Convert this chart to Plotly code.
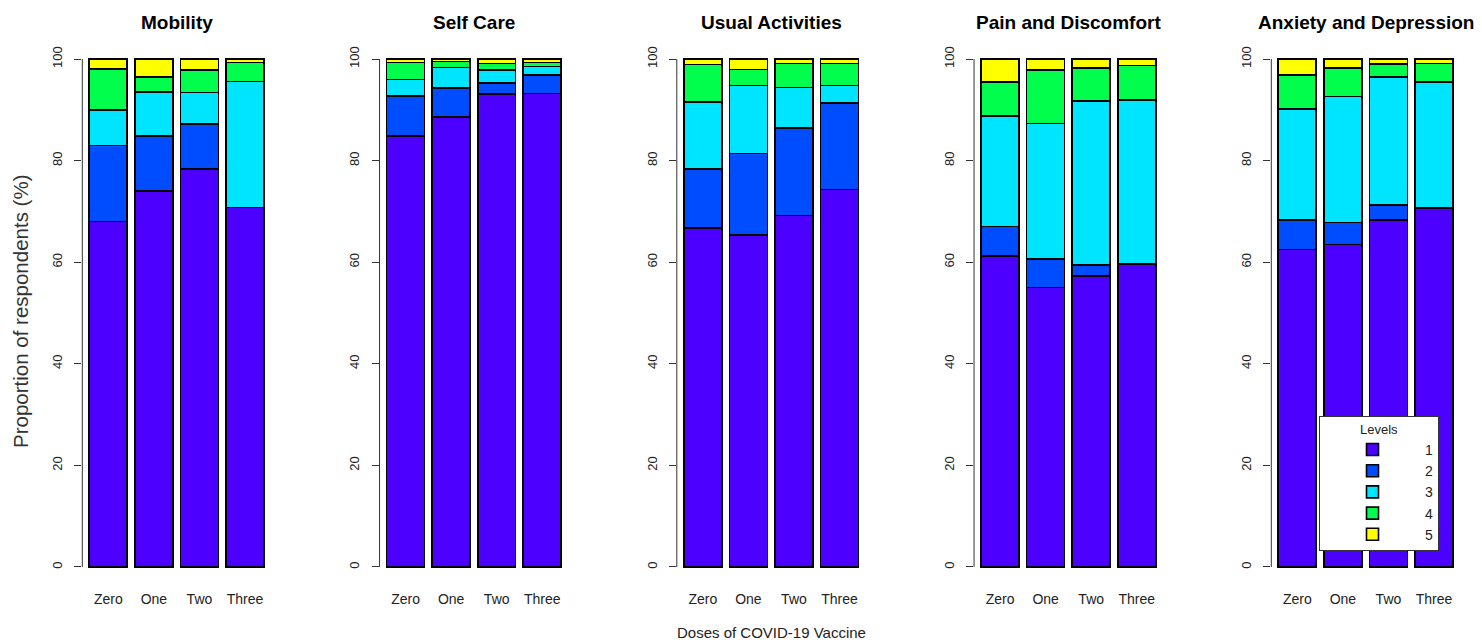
import plotly.graph_objects as go

doses = ["Zero", "One", "Two", "Three"]
dimensions = ["Mobility", "Self Care", "Usual Activities", "Pain and Discomfort", "Anxiety and Depression"]
levels = ["1", "2", "3", "4", "5"]
level_colors = ["#4C00FF", "#004CFF", "#00E5FF", "#00FF4D", "#FFFF00"]

# percentages per level (rows: level 1..5, columns: Zero, One, Two, Three)
mobility = [
    [68.0, 74.0, 78.3, 70.8],
    [15.0, 10.8, 8.9, 0.0],
    [7.0, 8.7, 6.2, 24.8],
    [8.0, 3.0, 4.4, 3.7],
    [2.0, 3.5, 2.2, 0.7],
]
self_care = [
    [84.8, 88.6, 93.1, 93.2],
    [7.9, 5.7, 2.2, 3.7],
    [3.3, 4.0, 2.5, 1.6],
    [3.3, 1.2, 1.3, 0.8],
    [0.7, 0.5, 0.9, 0.7],
]
usual_activities = [
    [66.7, 65.3, 69.2, 74.3],
    [11.6, 16.1, 17.2, 17.0],
    [13.2, 13.4, 8.0, 3.5],
    [7.4, 3.1, 4.7, 4.3],
    [1.1, 2.1, 0.9, 0.9],
]
pain_discomfort = [
    [61.2, 55.0, 57.3, 59.6],
    [5.8, 5.6, 2.2, 0.0],
    [21.8, 26.7, 32.2, 32.3],
    [6.7, 10.5, 6.5, 6.85],
    [4.5, 2.2, 1.8, 1.25],
]
anxiety_depression = [
    [62.5, 63.5, 68.3, 70.7],
    [5.8, 4.3, 3.0, 0.0],
    [21.9, 24.8, 25.2, 24.8],
    [6.6, 5.6, 2.5, 3.6],
    [3.2, 1.8, 1.0, 0.9],
]
panel_data = [mobility, self_care, usual_activities, pain_discomfort, anxiety_depression]

y_ticks = [0, 20, 40, 60, 80, 100]

# page has an 8px body margin; figure is sized to fill the rest of the window
OFF = 8
W, H = 1482 - OFF, 640 - OFF


def fx(px):
    return (px - OFF) / W


def fy(py):
    return 1 - (py - OFF) / H


bar_pos = [0.7 + 1.2 * i for i in range(len(doses))]

fig = go.Figure()
font_fam = "Liberation Sans, Arial, Helvetica, sans-serif"

plot_left0 = 82.3
panel_step = 297.25
panel_w = 188.7
y_bottom = fy(587.3)
y_top = fy(38.7)

for p, (name, data) in enumerate(zip(dimensions, panel_data)):
    ax = "" if p == 0 else str(p + 1)
    for li, lvl in enumerate(levels):
        fig.add_trace(go.Bar(
            x=bar_pos, y=data[li], width=1.0,
            name=lvl, legendgroup=lvl, showlegend=(p == 4),
            marker=dict(color=level_colors[li], line=dict(color="black", width=1.6)),
            xaxis="x" + ax, yaxis="y" + ax,
            hovertemplate=name + " %{x}: %{y}%<extra>Level " + lvl + "</extra>",
        ))
    x0 = fx(plot_left0 + panel_step * p)
    x1 = fx(plot_left0 + panel_step * p + panel_w)
    fig.layout["xaxis" + ax] = dict(
        domain=[x0, x1], range=[0.016, 4.984], anchor="y" + ax,
        tickvals=bar_pos, ticktext=doses, ticks="", showline=False,
        showgrid=False, zeroline=False, fixedrange=True,
        tickfont=dict(family=font_fam, size=14, color="#222"),
        ticklabelstandoff=2,
    )
    fig.layout["yaxis" + ax] = dict(
        domain=[y_bottom, y_top], range=[-4, 104], anchor="x" + ax,
        tickvals=y_ticks, ticks="outside", ticklen=7, tickwidth=1, tickcolor="#333",
        showline=False, showgrid=False, zeroline=False, tickangle=-90,
        tickfont=dict(family=font_fam, size=13, color="#222"),
        ticklabelstandoff=7,
    )
    fig.add_shape(type="line", xref="x" + ax + " domain", yref="y" + ax,
                  x0=0, x1=0, y0=0, y1=100, line=dict(color="#333", width=1))
    fig.add_annotation(text="<b>" + name + "</b>", xref="paper", yref="paper",
                       x=(x0 + x1) / 2, y=fy(22), showarrow=False,
                       xanchor="center", yanchor="middle",
                       font=dict(family=font_fam, size=19, color="black"))

fig.add_annotation(text="Proportion of respondents (%)", xref="paper", yref="paper",
                   x=fx(20), y=fy(312), textangle=-90, showarrow=False,
                   xanchor="center", yanchor="middle",
                   font=dict(family=font_fam, size=20.5, color="#333"))
fig.add_annotation(text="Doses of COVID-19 Vaccine", xref="paper", yref="paper",
                   x=fx(771), y=fy(632), showarrow=False,
                   xanchor="center", yanchor="middle",
                   font=dict(family=font_fam, size=15, color="#222"))

fig.update_layout(
    width=W, height=H, margin=dict(l=0, r=0, t=0, b=0),
    barmode="stack", plot_bgcolor="white", paper_bgcolor="white",
    legend=dict(
        title=dict(text="Levels", side="top center", font=dict(family=font_fam, size=13, color="#222")),
        x=fx(1319), y=fy(416), xanchor="left", yanchor="top",
        bgcolor="white", bordercolor="#333", borderwidth=1,
        font=dict(family=font_fam, size=14, color="#222"),
        traceorder="normal", itemwidth=95,
        tracegroupgap=0,
    ),
)

fig.write_html("out.html")
